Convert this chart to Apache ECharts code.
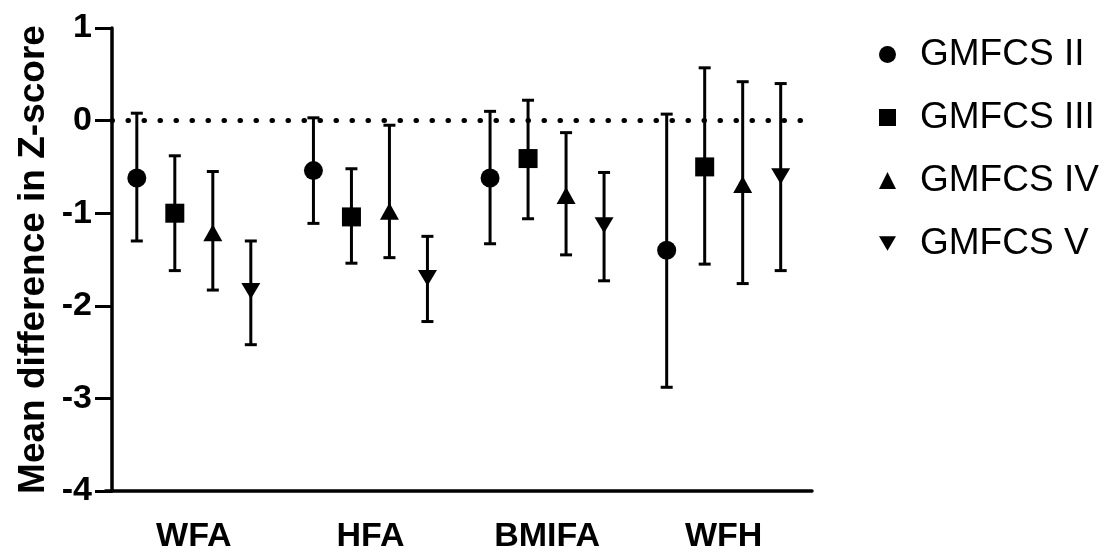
<!DOCTYPE html>
<html>
<head>
<meta charset="utf-8">
<script src="https://cdn.jsdelivr.net/npm/echarts@6/dist/echarts.min.js"></script>
<style>
  html, body { margin: 0; padding: 0; background: #fff; }
  #chart { width: 1112px; height: 552px; }
</style>
</head>
<body>
<div id="chart"></div>
<script>
// categories and groups
const categories = ['WFA', 'HFA', 'BMIFA', 'WFH'];
const groups = ['GMFCS II', 'GMFCS III', 'GMFCS IV', 'GMFCS V'];

// mean difference per group, one value per category
const meanII = [-0.62, -0.54, -0.62, -1.40];
const meanIII = [-1.00, -1.04, -0.41, -0.50];
const meanIV = [-1.21, -0.98, -0.81, -0.69];
const meanV = [-1.84, -1.70, -1.13, -0.60];

// lower / upper ends of the error bars
const lowII = [-1.30, -1.11, -1.33, -2.88];
const lowIII = [-1.62, -1.54, -1.06, -1.55];
const lowIV = [-1.83, -1.48, -1.45, -1.76];
const lowV = [-2.42, -2.17, -1.73, -1.62];
const highII = [0.08, 0.03, 0.10, 0.07];
const highIII = [-0.38, -0.52, 0.22, 0.57];
const highIV = [-0.55, -0.05, -0.13, 0.42];
const highV = [-1.30, -1.25, -0.56, 0.40];

const yTicks = [-4, -3, -2, -1, 0, 1];

const means = [meanII, meanIII, meanIV, meanV];
const lows = [lowII, lowIII, lowIV, lowV];
const highs = [highII, highIII, highIV, highV];

// look of each group
const offsets = [-57, -19, 19, 57];
const downTri = 'path://M0,0L20,0L10,17Z';
const symbols = ['circle', 'rect', 'triangle', downTri];
const sizes = [19, 19, [19, 17], [19, 16]];
const FONT = '"Liberation Sans", Arial, sans-serif';

function errorBars(off) {
  return function (params, api) {
    const x = api.coord([api.value(0), 0])[0] + off;
    const yLo = api.coord([api.value(0), api.value(1)])[1];
    const yHi = api.coord([api.value(0), api.value(2)])[1];
    const st = { stroke: '#000', lineWidth: 3 };
    return {
      type: 'group',
      children: [
        { type: 'line', shape: { x1: x, y1: yHi, x2: x, y2: yLo }, style: st },
        { type: 'line', shape: { x1: x - 6, y1: yHi, x2: x + 6, y2: yHi }, style: st },
        { type: 'line', shape: { x1: x - 6, y1: yLo, x2: x + 6, y2: yLo }, style: st }
      ]
    };
  };
}

const series = [];
groups.forEach((g, gi) => {
  series.push({
    name: g + ' SD',
    type: 'custom',
    renderItem: errorBars(offsets[gi]),
    encode: { x: 0, y: [1, 2] },
    data: categories.map((c, i) => [i, lows[gi][i], highs[gi][i]]),
    z: 2,
    silent: true
  });
});
groups.forEach((g, gi) => {
  series.push({
    name: g,
    type: 'scatter',
    symbol: symbols[gi],
    symbolSize: sizes[gi],
    symbolOffset: [offsets[gi], 0],
    itemStyle: { color: '#000', opacity: 1 },
    data: categories.map((c, i) => [i, means[gi][i]]),
    z: 5,
    silent: true
  });
});
// dotted zero line
series[4].markLine = {
  silent: true,
  symbol: 'none',
  label: { show: false },
  lineStyle: { color: '#000', width: 5, type: [0.5, 15.5], dashOffset: 9.5, cap: 'round' },
  data: [{ yAxis: 0 }]
};

const chart = echarts.init(document.getElementById('chart'), null, { renderer: 'canvas' });
chart.setOption({
  animation: false,
  backgroundColor: '#fff',
  grid: { left: 105.5, right: 300, top: 28, bottom: 61, containLabel: false, outerBoundsMode: 'none' },
  legend: {
    orient: 'vertical',
    left: 874,
    top: 31,
    itemWidth: 17,
    itemHeight: 17,
    itemGap: 26,
    selectedMode: false,
    data: groups.map((g, gi) => ({ name: g, icon: symbols[gi] })),
    itemStyle: { color: '#000' },
    textStyle: { fontFamily: FONT, fontSize: 37, color: '#000', lineHeight: 37, padding: [0, 0, 0, 19] }
  },
  xAxis: {
    type: 'category',
    data: categories,
    boundaryGap: true,
    axisLine: { onZero: false, lineStyle: { color: '#000', width: 3.5 } },
    axisTick: { alignWithLabel: true, length: 17, lineStyle: { color: '#000', width: 3 } },
    axisLabel: { fontFamily: FONT, fontSize: 34, fontWeight: 'bold', color: '#000', margin: 29 },
    splitLine: { show: false }
  },
  yAxis: {
    type: 'value',
    min: yTicks[0],
    max: yTicks[yTicks.length - 1],
    interval: 1,
    offset: -6.5,
    name: 'Mean difference in Z-score',
    nameLocation: 'middle',
    nameGap: 60,
    nameMoveOverlap: false,
    nameTextStyle: { fontFamily: FONT, fontSize: 37, fontWeight: 'bold', color: '#000' },
    axisLine: { show: true, onZero: false, lineStyle: { color: '#000', width: 3.5 } },
    axisTick: { show: true, length: 17, lineStyle: { color: '#000', width: 3 } },
    axisLabel: { fontFamily: FONT, fontSize: 34, fontWeight: 'bold', color: '#000', margin: 20 },
    splitLine: { show: false }
  },
  series: series
});
</script>
</body>
</html>
